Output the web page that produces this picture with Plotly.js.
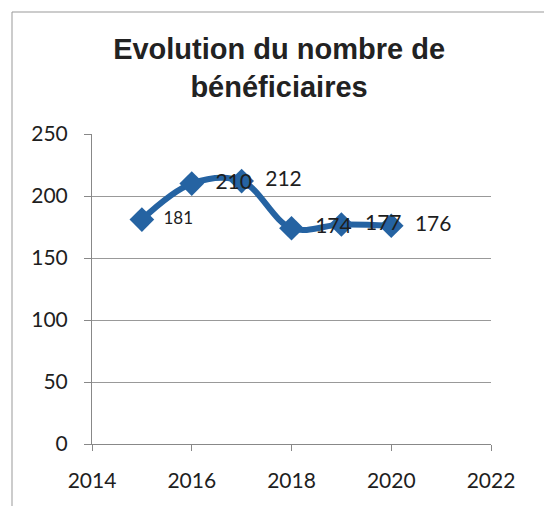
<!DOCTYPE html>
<html>
<head>
<meta charset="utf-8">
<script src="https://cdn.plot.ly/plotly-3.0.1.min.js"></script>
<style>html,body{margin:0;padding:0;background:#fff;}#chart{width:544px;height:506px;}</style>
</head>
<body>
<div id="chart"></div>
<script>
const years = [2015, 2016, 2017, 2018, 2019, 2020];
const beneficiaires = [181, 210, 212, 174, 177, 176];
const labels = ["181", "210", "212", "174", "177", "176"];
const xTicks = [2014, 2016, 2018, 2020, 2022];
const yTicks = [0, 50, 100, 150, 200, 250];

const trace = {
  x: years,
  y: beneficiaires,
  type: 'scatter',
  mode: 'lines+markers+text',
  text: labels.map(s => '\u00a0\u00a0' + s),
  textposition: 'middle right',
  textfont: {family: 'Lato, "Open Sans", sans-serif', size: [17, 21, 21, 21, 21, 21], color: '#1e1e1e'},
  line: {shape: 'spline', smoothing: 1, color: '#2563a2', width: 6},
  marker: {symbol: 'diamond', size: 19, color: '#2563a2'},
  cliponaxis: false,
  hoverinfo: 'none'
};

const layout = {
  width: 544, height: 506,
  margin: {l: 92, r: 53, t: 134, b: 62},
  paper_bgcolor: '#fff', plot_bgcolor: '#fff',
  showlegend: false,
  title: {
    text: '<b>Evolution du nombre de<br>bénéficiaires</b>',
    font: {family: '"Liberation Sans", Arial, sans-serif', size: 29, color: '#222'},
    x: 0.513, xanchor: 'center', y: 0.883, yanchor: 'middle'
  },
  xaxis: {
    range: [2014, 2022], tickvals: xTicks, ticktext: xTicks.map(String),
    showgrid: false, zeroline: false,
    showline: true, linecolor: '#888', linewidth: 1,
    ticks: 'outside', ticklen: 6, tickcolor: '#888',
    ticklabelstandoff: 12,
    tickfont: {family: 'Lato, "Open Sans", sans-serif', size: 21, color: '#1e1e1e'}
  },
  yaxis: {
    range: [0, 250], tickvals: yTicks,
    showgrid: true, gridcolor: '#999', gridwidth: 1, zeroline: false,
    showline: true, linecolor: '#888', linewidth: 1,
    ticks: 'outside', ticklen: 7, tickcolor: '#888',
    ticklabelstandoff: 12,
    tickfont: {family: 'Lato, "Open Sans", sans-serif', size: 21, color: '#1e1e1e'}
  },
  shapes: [
    {type: 'line', xref: 'paper', yref: 'paper', x0: -0.2005, x1: -0.2005, y0: 1.3935, y1: -0.21, line: {color: '#999', width: 1}},
    {type: 'line', xref: 'paper', yref: 'paper', x0: -0.2005, x1: 1.14, y0: 1.3935, y1: 1.3935, line: {color: '#999', width: 1}}
  ]
};

Plotly.newPlot('chart', [trace], layout, {staticPlot: true});
</script>
</body>
</html>
